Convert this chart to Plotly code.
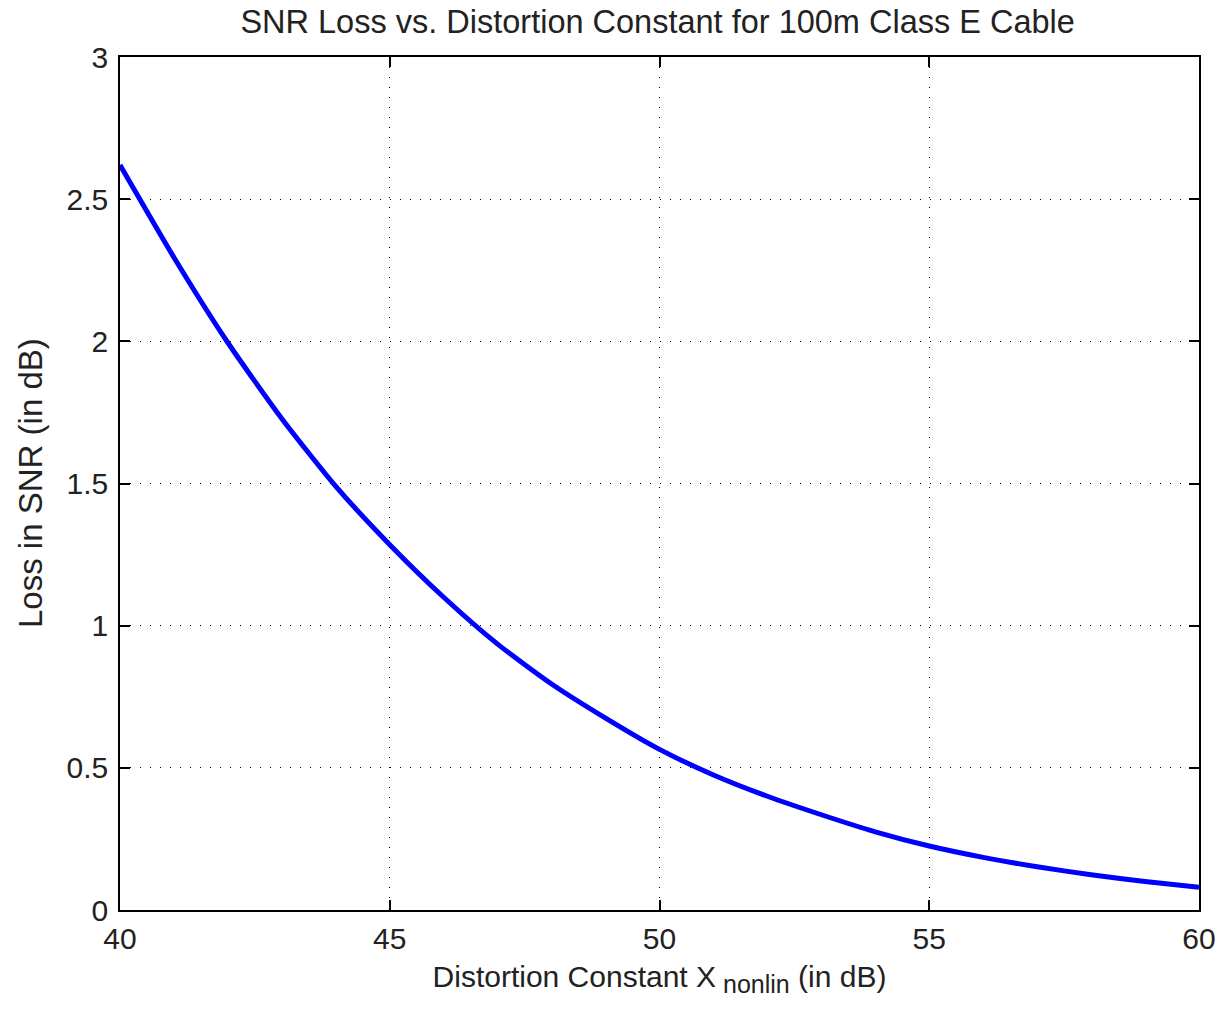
import plotly.graph_objects as go

distortion_db = [40, 41, 42, 43, 44, 45, 46, 47, 48, 49, 50,
                 51, 52, 53, 54, 55, 56, 57, 58, 59, 60]
snr_loss_db = [2.62, 2.295, 1.995, 1.728, 1.49, 1.285, 1.10, 0.935, 0.795, 0.675, 0.565,
               0.475, 0.40, 0.335, 0.275, 0.225, 0.185, 0.152, 0.124, 0.10, 0.08]

x_ticks = [40, 45, 50, 55, 60]
y_ticks = [0, 0.5, 1, 1.5, 2, 2.5, 3]
y_tick_text = ["0", "0.5", "1", "1.5", "2", "2.5", "3"]

FONT = "Liberation Sans, Arial, sans-serif"
TXT = "#222222"

fig = go.Figure()
fig.add_trace(go.Scatter(
    x=distortion_db, y=snr_loss_db, mode="lines",
    line=dict(color="#0000ff", width=5, shape="spline", smoothing=0.6),
    showlegend=False, hoverinfo="skip"))

axis_common = dict(
    showline=True, linecolor="black", linewidth=1.5, mirror="allticks",
    ticks="inside", ticklen=10, tickwidth=1.5, tickcolor="black",
    showgrid=True, gridcolor="black", gridwidth=1, griddash="1px,9px",
    zeroline=False, automargin=False,
    tickfont=dict(family=FONT, size=30, color=TXT),
)

fig.update_layout(
    width=1219, height=1011,
    margin=dict(l=120, r=20, t=57, b=101),
    paper_bgcolor="white", plot_bgcolor="white",
    title=dict(text="SNR Loss vs. Distortion Constant for 100m Class E Cable",
               x=0.5395, xanchor="center", y=1 - 22 / 1011, yanchor="middle",
               yref="container",
               font=dict(family=FONT, size=32.5, color=TXT)),
    xaxis=dict(range=[40, 60], tickvals=x_ticks, ticktext=[str(v) for v in x_ticks],
               ticklabelstandoff=1,
               title=dict(text="Distortion Constant X<sub><span style='font-size:25px'> nonlin</span></sub> (in dB)",
                          font=dict(family=FONT, size=30, color=TXT), standoff=12),
               **axis_common),
    yaxis=dict(range=[0, 3], tickvals=y_ticks, ticktext=y_tick_text,
               ticklabelstandoff=4,
               **axis_common),
    annotations=[dict(
        text="Loss in SNR (in dB)", textangle=-90,
        xref="paper", yref="paper", x=(30 - 120) / 1079, y=(910 - 483) / 853,
        xanchor="center", yanchor="middle", showarrow=False,
        font=dict(family=FONT, size=33, color=TXT))],
)

fig.write_html("out.html")
